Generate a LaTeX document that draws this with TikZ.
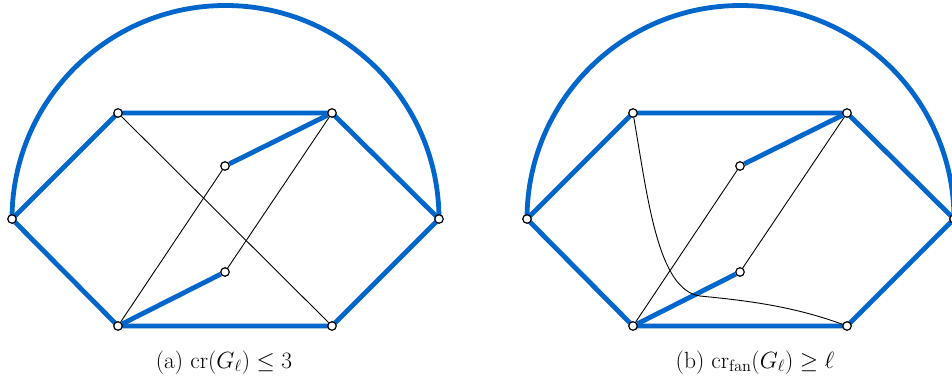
\documentclass[tikz,border=0pt]{standalone}
\usetikzlibrary{backgrounds}
\definecolor{edgeblue}{RGB}{0,102,204}
\begin{document}
\begin{tikzpicture}[x=1pt,y=1pt,
  vtx/.style={circle,draw=black,fill=white,line width=1.2pt,inner sep=0pt,minimum size=8.5pt},
  thick edge/.style={draw=edgeblue,line width=4.8pt},
  thin edge/.style={draw=black,line width=0.9pt},
  captiontext/.style={anchor=base,font=\huge}]
\useasboundingbox (0,0) rectangle (952,383);
% (a)
\node[vtx] (aL)  at (12,164) {};
\node[vtx] (aTL) at (118,270) {};
\node[vtx] (aTR) at (332,270) {};
\node[vtx] (aR)  at (439,164) {};
\node[vtx] (aBR) at (332,57) {};
\node[vtx] (aBL) at (118,57) {};
\node[vtx] (aIT) at (225,217) {};
\node[vtx] (aIB) at (225,111) {};
% (b)
\node[vtx] (bL)  at (527,164) {};
\node[vtx] (bTL) at (633,270) {};
\node[vtx] (bTR) at (847,270) {};
\node[vtx] (bR)  at (954,164) {};
\node[vtx] (bBR) at (847,57) {};
\node[vtx] (bBL) at (633,57) {};
\node[vtx] (bIT) at (740,217) {};
\node[vtx] (bIB) at (740,111) {};
\begin{scope}[on background layer]
  \draw[thick edge] (aL.center) arc[start angle=180,end angle=0,radius=213.5pt];
  \draw[thick edge] (aL.center) -- (aTL.center) -- (aTR.center) -- (aR.center) -- (aBR.center) -- (aBL.center) -- cycle;
  \draw[thick edge] (aTR) -- (aIT);
  \draw[thick edge] (aBL) -- (aIB);
  \draw[thin edge] (aTL) -- (aBR);
  \draw[thin edge] (aBL) -- (aIT);
  \draw[thin edge] (aTR) -- (aIB);
  \draw[thick edge] (bL.center) arc[start angle=180,end angle=0,radius=213.5pt];
  \draw[thick edge] (bL.center) -- (bTL.center) -- (bTR.center) -- (bR.center) -- (bBR.center) -- (bBL.center) -- cycle;
  \draw[thick edge] (bTR) -- (bIT);
  \draw[thick edge] (bBL) -- (bIB);
  \draw[thin edge] (bTL) .. controls (648,183) and (658,93) .. (700,87) .. controls (740,83) and (790,78) .. (bBR);
  \draw[thin edge] (bBL) -- (bIT);
  \draw[thin edge] (bTR) -- (bIB);
\end{scope}
\node[captiontext] (capa) at (224,15) {\scalebox{1.13}{(a) $\mathrm{cr}(G_\ell)\leq 3$}};
\node[captiontext] (capb) at (755,15) {\scalebox{1.13}{(b) $\mathrm{cr}_{\mathrm{fan}}(G_\ell)\geq \ell$}};
\end{tikzpicture}
\end{document}
